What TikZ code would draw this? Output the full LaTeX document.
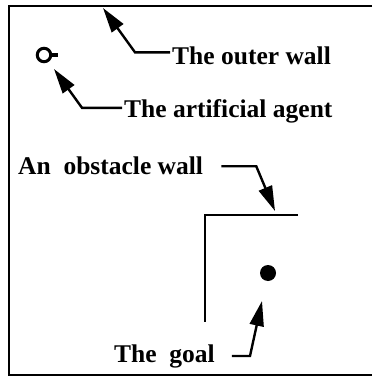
\documentclass[tikz,border=0pt]{standalone}
\usepackage{fontspec}
\setmainfont{Liberation Serif}
\usetikzlibrary{arrows.meta,positioning}

\tikzset{
  wall/.style={line width=2.8pt},
  callout/.style={line width=2.4pt,-{Triangle[length=25pt,width=14pt]}},
  lbl/.style={inner sep=0pt,anchor=base west,font=\fontsize{25.5}{30}\selectfont\bfseries},
}

\begin{document}
\begin{tikzpicture}[x=1pt,y=-1pt]
  \useasboundingbox (0,0) rectangle (372,379);

  % Outer wall (right side runs off the frame)
  \draw[wall] (372,6) -- (9,6) -- (9,375) -- (372,375);

  % Obstacle wall
  \draw[wall] (298,215) -- (205,215) -- (205,322);

  % Agent and goal
  \node[circle,draw,line width=3pt,minimum size=13.5pt,inner sep=0pt]
    (agent) at (44,55) {};
  \draw[line width=4.5pt] (agent.east) -- ++(6,0);
  \node[circle,fill,minimum size=16pt,inner sep=0pt] (goal) at (268,273) {};

  % Arrow tips
  \coordinate (outertip) at (103,8);
  \coordinate (agenttip) at (54,69);
  \coordinate (obsttip) at (275,211);
  \coordinate (goaltip) at (262,301);

  % Labels
  \node[lbl] (outerlbl) at (172,65) {The outer wall};
  \node[lbl] (agentlbl) at (124,118) {The artificial agent};
  \node[lbl] (obstlbl) at (18,175) {An~ obstacle wall};
  \node[lbl] (goallbl) at (114,362) {The~ goal};

  % Callouts
  \draw[callout] ([xshift=-2pt,yshift=4pt]outerlbl.west) -- ++(-35,0) -- (outertip);
  \draw[callout] ([xshift=-2pt,yshift=4pt]agentlbl.west) -- ++(-40,0) -- (agenttip);
  \draw[callout] ([xshift=18pt]obstlbl.east) -- ++(35,0) -- (obsttip);
  \draw[callout] ([xshift=17pt]goallbl.east) -- ++(18,0) -- (goaltip);
\end{tikzpicture}
\end{document}
